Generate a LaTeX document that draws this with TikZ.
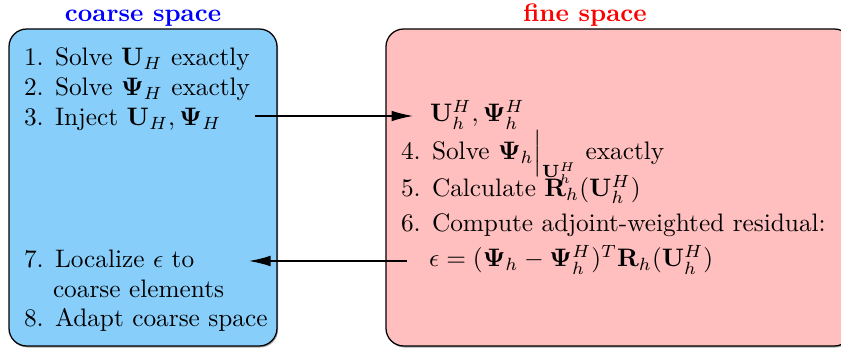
\documentclass[tikz,border=0pt]{standalone}
\usepackage{amsmath}
\usetikzlibrary{arrows.meta,shadows,fit}
\definecolor{coarsefill}{RGB}{135,206,250}
\definecolor{finefill}{RGB}{255,191,191}
\begin{document}
\begin{tikzpicture}[x=0.3953pt,y=-0.3953pt,
  spacebox/.style={draw=black, line width=0.5pt, rounded corners=7pt, inner sep=0pt,
    drop shadow={shadow xshift=0.4pt, shadow yshift=-0.6pt, opacity=0.7}},
  txt/.style={anchor=base west, inner sep=0pt, outer sep=0pt},
  lbl/.style={anchor=base west, inner sep=0pt, outer sep=0pt},
  titletxt/.style={anchor=base, inner sep=0pt, font=\bfseries},
  link/.style={-{Latex[length=8.5pt,width=4.2pt]}, line width=0.5pt}]
\useasboundingbox (0,0) rectangle (841,349);
% boxes
\node[spacebox, fill=coarsefill, fit={(9,29) (277,346)}] (coarsebox) {};
\node[spacebox, fill=finefill, fit={(386,29) (852,346)}] (finebox) {};
% titles
\node[titletxt, text=blue] (ctitle) at (143,21.5) {coarse space};
\node[titletxt, text=red] (ftitle) at (585,21.5) {fine space};
% coarse items
\node[lbl] (l1) at (24,66) {1.};
\node[txt] (t1) at (55,66) {Solve $\mathbf{U}_H$ exactly};
\node[lbl] (l2) at (24,96) {2.};
\node[txt] (t2) at (55,96) {Solve $\mathbf{\Psi}_H$ exactly};
\node[lbl] (l3) at (24,126) {3.};
\node[txt] (t3) at (55,126) {Inject $\mathbf{U}_H, \mathbf{\Psi}_H$};
\node[lbl] (l7) at (24,268) {7.};
\node[txt] (t7) at (55,268) {Localize $\epsilon$ to};
\node[txt] (t7b) at (53,297.5) {coarse elements};
\node[lbl] (l8) at (24,327) {8.};
\node[txt] (t8) at (55,327) {Adapt coarse space};
% fine items
\node[txt] (uh) at (430,122) {$\mathbf{U}_h^H, \mathbf{\Psi}_h^H$};
\node[lbl] (l4) at (401,160) {4.};
\node[txt] (t4) at (432,160) {Solve $\mathbf{\Psi}_h\Big|_{\mathbf{U}_h^H}$ exactly};
\node[lbl] (l5) at (401,196.5) {5.};
\node[txt] (t5) at (432,196.5) {Calculate $\mathbf{R}_h(\mathbf{U}_h^H)$};
\node[lbl] (l6) at (401,232) {6.};
\node[txt] (t6) at (432,232) {Compute adjoint-weighted residual:};
\node[txt] (eps) at (429,267) {$\epsilon = (\mathbf{\Psi}_h - \mathbf{\Psi}_h^H)^T \mathbf{R}_h(\mathbf{U}_h^H)$};
% connectors
\coordinate (a1s) at (255,116);
\coordinate (a1e) at (413,116);
\coordinate (a2s) at (407,261);
\coordinate (a2e) at (249,261);
\draw[link] (a1s) -- (a1e);
\draw[link] (a2s) -- (a2e);
\end{tikzpicture}
\end{document}
